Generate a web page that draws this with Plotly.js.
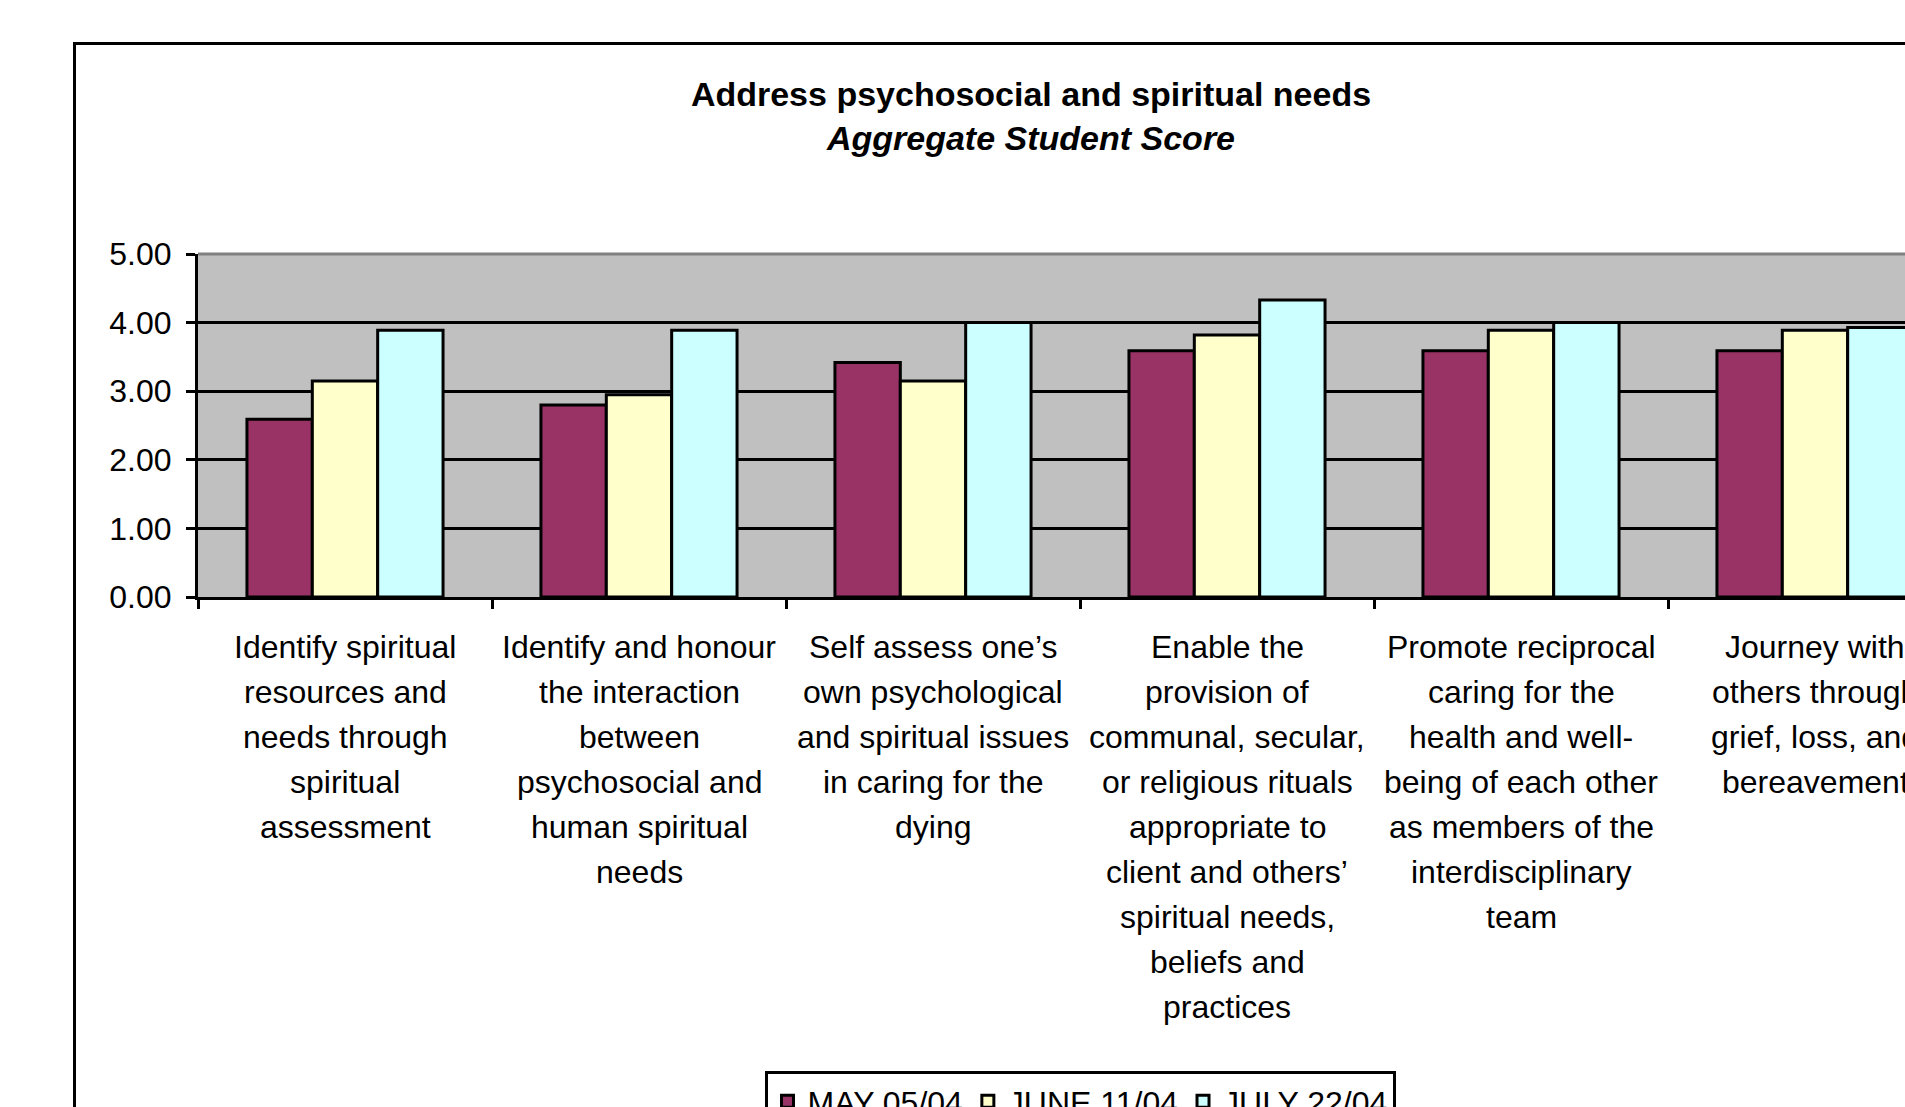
<!DOCTYPE html>
<html><head><meta charset="utf-8">
<script src="https://cdn.plot.ly/plotly-3.0.1.min.js"></script>
<style>
html,body{margin:0;padding:0;overflow:hidden;background:#fff;width:1905px;height:1107px;}
#frame{position:absolute;left:73px;top:42px;width:1917px;height:1300px;border:3px solid #000;box-sizing:border-box;}
#chart{position:absolute;left:0;top:0;width:2000px;height:1250px;}
</style></head><body>
<div id="frame"></div>
<div id="chart"></div>
<script>
const categories = [
  "Identify spiritual<br>resources and<br>needs through<br>spiritual<br>assessment",
  "Identify and honour<br>the interaction<br>between<br>psychosocial and<br>human spiritual<br>needs",
  "Self assess one\u2019s<br>own psychological<br>and spiritual issues<br>in caring for the<br>dying",
  "Enable the<br>provision of<br>communal, secular,<br>or religious rituals<br>appropriate to<br>client and others\u2019<br>spiritual needs,<br>beliefs and<br>practices",
  "Promote reciprocal<br>caring for the<br>health and well-<br>being of each other<br>as members of the<br>interdisciplinary<br>team",
  "Journey with<br>others through<br>grief, loss, and<br>bereavement"
];
const seriesNames = ["MAY 05/04", "JUNE 11/04", "JULY 22/04"];
const may05 = [2.59, 2.80, 3.42, 3.59, 3.59, 3.59];
const june11 = [3.15, 2.95, 3.15, 3.82, 3.89, 3.89];
const july22 = [3.89, 3.89, 4.00, 4.33, 4.00, 3.93];
const yTicks = [0, 1, 2, 3, 4, 5];
const titleMain = "Address psychosocial and spiritual needs";
const titleSub = "Aggregate Student Score";

const FONT = "Liberation Sans, Arial, sans-serif";
const colors = ["#993366", "#FFFFCC", "#CCFFFF"];
const seriesValues = [may05, june11, july22];

const traces = seriesValues.map((vals, i) => ({
  type: "bar",
  name: seriesNames[i],
  x: categories,
  y: vals,
  marker: {color: colors[i], line: {color: "#000", width: 3}},
  hoverinfo: "x+y"
}));

const annotations = [];
categories.forEach(cat => {
  cat.split("<br>").forEach((line, li) => {
    annotations.push({
      x: cat, y: 0, xref: "x", yref: "y",
      text: line, showarrow: false,
      xanchor: "center", yanchor: "middle",
      yshift: -50 - 45 * li,
      font: {family: FONT, size: 32, color: "#000"}
    });
  });
});

const layout = {
  width: 2000, height: 1250,
  paper_bgcolor: "rgba(0,0,0,0)",
  plot_bgcolor: "#C0C0C0",
  margin: {l: 198, r: 38, t: 254, b: 653, pad: 0},
  font: {family: FONT, color: "#000"},
  title: {
    text: "<b>" + titleMain + "</b><br><b><i>" + titleSub + "</i></b>",
    font: {family: FONT, size: 34, color: "#000"},
    xref: "container", yref: "container",
    x: 0.5155, xanchor: "center",
    y: 1 - 106 / 1250, yanchor: "top"
  },
  barmode: "group",
  bargap: 0.333,
  bargroupgap: 0,
  xaxis: {
    type: "category",
    showticklabels: false,
    showline: true, linecolor: "#000", linewidth: 3,
    ticks: "outside", tickson: "boundaries", ticklen: 9, tickwidth: 3, tickcolor: "#000",
    showgrid: false, zeroline: false
  },
  yaxis: {
    range: [0, 5],
    tickvals: yTicks,
    tickformat: ".2f",
    showline: true, linecolor: "#000", linewidth: 3,
    ticks: "outside", ticklen: 9, tickwidth: 3, tickcolor: "#000",
    ticklabelstandoff: 8,
    tickfont: {family: FONT, size: 32, color: "#000"},
    showgrid: true, gridcolor: "#000", gridwidth: 3,
    zeroline: false
  },
  shapes: [{
    type: "line", xref: "paper", yref: "paper",
    x0: 0, x1: 1, y0: 1, y1: 1,
    line: {color: "#808080", width: 3}, layer: "above"
  }],
  legend: {
    orientation: "h",
    x: 0.5, xanchor: "center",
    y: -1.382, yanchor: "top",
    bgcolor: "#fff", bordercolor: "#000", borderwidth: 3,
    font: {family: FONT, size: 32, color: "#000"},
    traceorder: "normal"
  },
  showlegend: true,
  annotations: annotations
};

Plotly.newPlot("chart", traces, layout, {displayModeBar: false, staticPlot: true});
</script>
</body></html>
